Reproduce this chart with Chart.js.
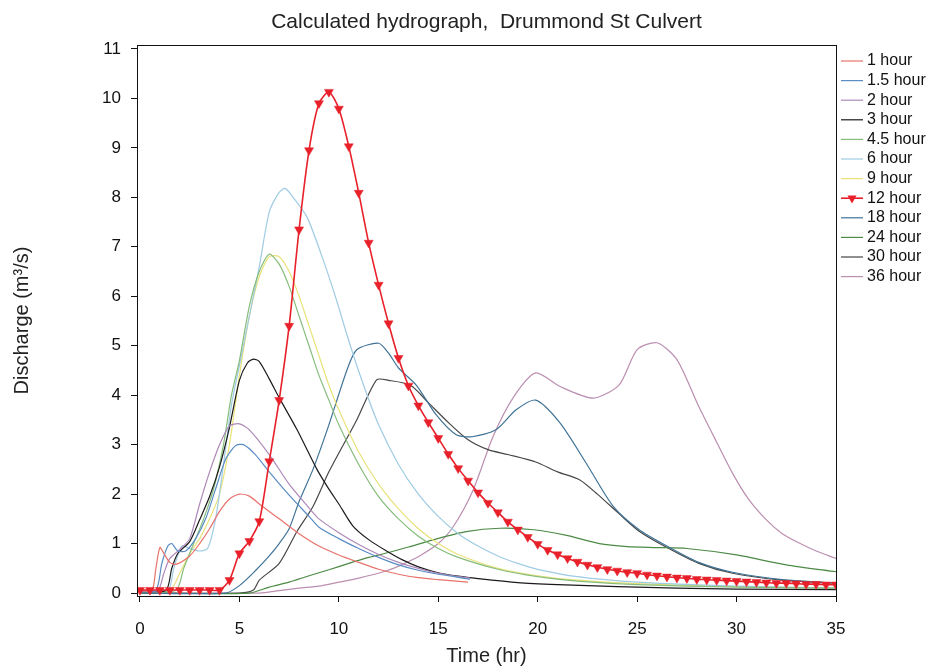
<!DOCTYPE html>
<html>
<head>
<meta charset="utf-8">
<script src="https://cdn.jsdelivr.net/npm/chart.js@4"></script>
<style>
  html, body { margin: 0; padding: 0; background: #fff; }
  #wrap { width: 930px; height: 666px; }
</style>
</head>
<body>
<div id="wrap"><canvas id="chart"></canvas></div>
<script>
// Calculated hydrograph, Drummond St Culvert

const chartTitle = 'Calculated hydrograph,  Drummond St Culvert';
const seriesLabels = ['1 hour', '1.5 hour', '2 hour', '3 hour', '4.5 hour', '6 hour', '9 hour', '12 hour', '18 hour', '24 hour', '30 hour', '36 hour'];
const xTicks = [0, 5, 10, 15, 20, 25, 30, 35];
const yTicks = [0, 1, 2, 3, 4, 5, 6, 7, 8, 9, 10, 11];

// time (hr) / discharge (m3/s) for each storm duration
const t1h = [0, 0.6, 0.8, 1.0, 1.2, 1.5, 1.8, 2.5, 3.0, 3.5, 4.0, 4.5, 5.0, 5.5, 6.0, 7.0, 8.0, 9.0, 10, 11, 12, 13, 14, 15, 16.5];
const q1h = [0.05, 0.05, 0.5, 0.92, 0.8, 0.62, 0.58, 0.75, 1.0, 1.3, 1.65, 1.9, 2.0, 1.96, 1.8, 1.5, 1.2, 0.95, 0.77, 0.62, 0.48, 0.38, 0.31, 0.27, 0.22];

const t1_5h = [0, 0.8, 1.1, 1.4, 1.6, 1.9, 2.3, 2.8, 3.3, 3.8, 4.3, 4.8, 5.2, 5.8, 6.5, 7.5, 8.5, 9.0, 10, 11, 12, 13, 14, 15, 16.6];
const q1_5h = [0.05, 0.05, 0.6, 0.95, 1.0, 0.85, 0.85, 1.1, 1.5, 2.1, 2.7, 2.98, 3.0, 2.8, 2.45, 1.98, 1.55, 1.33, 1.1, 0.9, 0.72, 0.57, 0.46, 0.38, 0.28];

const t2h = [0, 0.9, 1.2, 1.5, 2.0, 2.5, 3.0, 3.5, 4.0, 4.5, 5.0, 5.5, 6.5, 7.5, 8.5, 9.0, 10, 11, 12, 13, 14, 15, 16.6];
const q2h = [0.05, 0.05, 0.4, 0.7, 0.88, 1.1, 1.8, 2.45, 3.0, 3.38, 3.42, 3.3, 2.8, 2.2, 1.72, 1.5, 1.22, 0.98, 0.78, 0.62, 0.5, 0.4, 0.3];

const t3h = [0, 1.3, 1.6, 1.9, 2.5, 3.0, 3.5, 4.0, 4.5, 5.0, 5.4, 5.7, 6.0, 6.5, 7.0, 7.9, 8.9, 9.5, 10, 10.7, 11.5, 12.4, 13.2, 14, 15, 16, 17, 19, 21, 24, 27, 30, 35];
const q3h = [0.05, 0.05, 0.5, 0.8, 1.04, 1.48, 1.95, 2.55, 3.35, 4.3, 4.65, 4.73, 4.68, 4.33, 3.95, 3.3, 2.5, 2.1, 1.8, 1.36, 1.08, 0.85, 0.67, 0.53, 0.41, 0.34, 0.29, 0.21, 0.17, 0.13, 0.1, 0.08, 0.07];

const t4_5h = [0, 1.8, 2.2, 2.7, 3.2, 3.7, 4.2, 4.6, 5.0, 5.5, 6.0, 6.5, 7.0, 7.5, 8.0, 8.5, 9.0, 9.5, 10, 11, 12, 13, 14, 15, 16, 18, 20, 22, 25, 30, 35];
const q4_5h = [0.05, 0.05, 0.5, 1.0, 1.5, 2.1, 3.0, 4.0, 4.7, 5.8, 6.5, 6.85, 6.65, 6.2, 5.6, 5.0, 4.4, 3.9, 3.4, 2.6, 1.95, 1.5, 1.15, 0.9, 0.72, 0.48, 0.33, 0.24, 0.17, 0.12, 0.1];

const t6h = [0, 1.4, 1.7, 2.1, 2.5, 3.0, 3.4, 3.8, 4.2, 4.6, 5.0, 5.5, 6.0, 6.5, 7.0, 7.3, 7.7, 8.4, 9.2, 9.9, 10.5, 11.2, 12, 13, 14, 15, 16, 17, 18, 19, 20, 22, 25, 30, 35];
const q6h = [0.05, 0.05, 0.5, 0.95, 0.9, 0.85, 0.9, 1.5, 2.6, 3.8, 4.6, 5.6, 6.6, 7.7, 8.1, 8.18, 8.0, 7.6, 6.75, 5.9, 5.1, 4.25, 3.4, 2.6, 2.0, 1.55, 1.2, 0.95, 0.75, 0.6, 0.48, 0.33, 0.22, 0.14, 0.1];

const t9h = [0, 1.5, 2.0, 2.5, 3.0, 3.5, 4.0, 4.5, 5.0, 5.5, 6.0, 6.5, 7.0, 7.5, 8.0, 8.5, 9.0, 9.5, 10, 11, 12, 13, 14, 15, 16, 18, 20, 22, 25, 30, 35];
const q9h = [0.05, 0.05, 0.4, 0.8, 1.1, 1.5, 2.0, 3.0, 4.4, 5.6, 6.4, 6.8, 6.8, 6.5, 6.0, 5.4, 4.8, 4.2, 3.7, 2.85, 2.2, 1.7, 1.3, 1.0, 0.78, 0.5, 0.35, 0.26, 0.19, 0.13, 0.1];

const t12h = [0, 0.5, 1, 1.5, 2, 2.5, 3, 3.5, 4, 4.5, 5, 5.5, 6, 6.5, 7, 7.5, 8, 8.5, 9, 9.5, 10, 10.5, 11, 11.5, 12,
  12.5, 13, 13.5, 14, 14.5, 15, 15.5, 16, 16.5, 17, 17.5, 18, 18.5, 19, 19.5, 20, 20.5, 21, 21.5, 22, 22.5, 23, 23.5, 24,
  24.5, 25, 25.5, 26, 26.5, 27, 27.5, 28, 28.5, 29, 29.5, 30, 30.5, 31, 31.5, 32, 32.5, 33, 33.5, 34, 34.5, 35];
const q12h = [0.06, 0.06, 0.06, 0.06, 0.06, 0.06, 0.06, 0.06, 0.06, 0.26, 0.80, 1.05, 1.45, 2.66, 3.9, 5.4, 7.35, 8.95, 9.9, 10.13, 9.79, 9.03, 8.09, 7.08, 6.23,
  5.45, 4.75, 4.19, 3.79, 3.45, 3.13, 2.81, 2.52, 2.27, 2.03, 1.82, 1.63, 1.44, 1.28, 1.13, 0.99, 0.87, 0.78, 0.70, 0.63, 0.57, 0.52, 0.48, 0.45,
  0.42, 0.40, 0.37, 0.35, 0.33, 0.31, 0.30, 0.28, 0.27, 0.26, 0.25, 0.24, 0.23, 0.22, 0.21, 0.20, 0.20, 0.19, 0.18, 0.18, 0.17, 0.17];

const t18h = [0, 4.3, 5.0, 5.8, 6.5, 7.0, 7.5, 8.0, 8.7, 9.5, 10.4, 10.9, 12.0, 12.5, 13.0, 13.9, 14.9, 15.9, 16.7, 17.9, 18.9, 19.9, 21.1, 22.4, 23.8, 25.1, 26.5, 28.1, 29.8, 32.3, 35];
const q18h = [0, 0, 0.15, 0.45, 0.75, 1.0, 1.3, 1.85, 2.5, 3.4, 4.5, 4.92, 5.05, 4.85, 4.55, 4.2, 3.6, 3.2, 3.16, 3.3, 3.7, 3.9, 3.45, 2.65, 1.75, 1.28, 0.95, 0.62, 0.42, 0.27, 0.2];

const t24h = [0, 5.5, 6.5, 7.5, 8.5, 9.5, 10.5, 11.5, 12.5, 13.5, 14.7, 16.4, 18.1, 19.8, 21.4, 23.1, 24.5, 26, 27.5, 30, 32.5, 35];
const q24h = [0, 0, 0.12, 0.22, 0.35, 0.47, 0.6, 0.72, 0.82, 0.93, 1.07, 1.24, 1.31, 1.28, 1.17, 1.0, 0.94, 0.92, 0.9, 0.77, 0.57, 0.43];

const t30h = [0, 5.0, 5.7, 6.0, 7.0, 7.9, 8.7, 9.5, 10.9, 11.9, 12.5, 13.6, 14.5, 15.5, 16.5, 17.5, 18.5, 19.9, 21.0, 22.1, 23, 24.1, 25.1, 26.5, 28.1, 29.8, 32.3, 35];
const q30h = [0, 0, 0.06, 0.26, 0.6, 1.25, 1.75, 2.45, 3.5, 4.31, 4.3, 4.2, 3.85, 3.45, 3.1, 2.9, 2.8, 2.65, 2.45, 2.29, 2.0, 1.6, 1.25, 0.92, 0.6, 0.4, 0.26, 0.2];

const t36h = [0, 6, 7, 8, 9, 10, 11, 12.4, 13.2, 14.1, 15, 15.75, 16.75, 17.75, 18.8, 19.9, 21.1, 22.8, 24.1, 25, 26, 27, 28.1, 29, 29.8, 30.6, 31.5, 32.3, 33.2, 34, 35];
const q36h = [0, 0, 0.05, 0.1, 0.14, 0.22, 0.3, 0.45, 0.58, 0.76, 1.0, 1.34, 2.08, 3.16, 3.97, 4.45, 4.18, 3.94, 4.21, 4.92, 5.06, 4.72, 3.77, 3.05, 2.42, 1.9, 1.48, 1.2, 1.0, 0.85, 0.7];

const seriesTimes = [t1h, t1_5h, t2h, t3h, t4_5h, t6h, t9h, t12h, t18h, t24h, t30h, t36h];
const seriesValues = [q1h, q1_5h, q2h, q3h, q4_5h, q6h, q9h, q12h, q18h, q24h, q30h, q36h];
const seriesColors = ['#e8736c', '#5a8cc4', '#ad88b8', '#1a1a1a', '#86bd7c', '#9fcbe3', '#e9e27a', '#e8202a', '#3f7396', '#4c8a45', '#474747', '#bb8fb0'];

const FONT = '"Liberation Sans", Arial, sans-serif';

function pair(ts, qs) {
    return ts.map((t, i) => ({ x: t, y: qs[i] }));
}

const datasets = seriesLabels.map((label, i) => {
    const is12 = label === '12 hour';
    return {
        label: label,
        data: pair(seriesTimes[i], seriesValues[i]),
        borderColor: seriesColors[i],
        backgroundColor: seriesColors[i],
        borderWidth: is12 ? 1.6 : 1.2,
        pointRadius: is12 ? 5.2 : 0,
        pointStyle: 'triangle',
        rotation: 180,
        pointBorderWidth: 0.5,
        tension: 0.25,
        order: is12 ? 0 : 1
    };
});

// frame round the plot, and the title centred over it
const framePlugin = {
    id: 'frame',
    afterDraw(chart) {
        const a = chart.chartArea;
        const ctx = chart.ctx;
        ctx.save();
        ctx.strokeStyle = '#111';
        ctx.lineWidth = 1;
        ctx.strokeRect(a.left + 0.5, a.top + 0.5, a.right - a.left, a.bottom - a.top);
        ctx.fillStyle = '#222';
        ctx.font = '21px ' + FONT;
        ctx.textAlign = 'center';
        ctx.textBaseline = 'middle';
        ctx.fillText(chartTitle, (a.left + a.right) / 2, 22);
        ctx.restore();
    }
};

// legend down the right side, like the original
const sideLegend = {
    id: 'sideLegend',
    afterDraw(chart) {
        const ctx = chart.ctx;
        ctx.save();
        ctx.font = '16px ' + FONT;
        ctx.textBaseline = 'middle';
        chart.data.datasets.forEach((ds, i) => {
            const y = 61 + i * 19.6;
            ctx.strokeStyle = ds.borderColor;
            ctx.lineWidth = ds.borderWidth;
            ctx.beginPath();
            ctx.moveTo(841, y);
            ctx.lineTo(863, y);
            ctx.stroke();
            if (ds.pointRadius > 0) {
                const r = ds.pointRadius;
                ctx.fillStyle = ds.borderColor;
                ctx.beginPath();
                ctx.moveTo(852, y + r);
                ctx.lineTo(852 - r * 0.87, y - r / 2);
                ctx.lineTo(852 + r * 0.87, y - r / 2);
                ctx.closePath();
                ctx.fill();
            }
            ctx.fillStyle = '#111';
            ctx.fillText(ds.label, 867, y);
        });
        ctx.restore();
    }
};

new Chart(document.getElementById('chart'), {
    type: 'line',
    data: { datasets: datasets },
    plugins: [framePlugin, sideLegend],
    options: {
        responsive: true,
        maintainAspectRatio: false,
        animation: false,
        layout: { padding: { left: 0, right: 94, top: 45, bottom: 0 } },
        plugins: {
            legend: { display: false },
            tooltip: { enabled: false },
            title: { display: false }
        },
        scales: {
            x: {
                type: 'linear',
                min: -0.15,
                max: 35,
                afterBuildTicks: axis => { axis.ticks = xTicks.map(v => ({ value: v })); },
                afterFit: axis => { axis.height = 70; },
                ticks: { color: '#111', font: { family: FONT, size: 17 }, padding: 17, maxRotation: 0 },
                grid: { drawOnChartArea: false, drawTicks: true, tickLength: 6, color: '#111' },
                border: { display: true, color: '#111' },
                title: {
                    display: true,
                    text: 'Time (hr)',
                    color: '#222',
                    font: { family: FONT, size: 20, lineHeight: 1.0 },
                    padding: { top: 0, bottom: 0 }
                }
            },
            y: {
                type: 'linear',
                min: -0.06,
                max: 11.08,
                afterBuildTicks: axis => { axis.ticks = yTicks.map(v => ({ value: v })); },
                afterFit: axis => { axis.width = 137; },
                ticks: { color: '#111', font: { family: FONT, size: 17 }, padding: 10 },
                grid: { drawOnChartArea: false, drawTicks: true, tickLength: 6, color: '#111' },
                border: { display: true, color: '#111' },
                title: {
                    display: true,
                    text: 'Discharge (m³/s)',
                    color: '#222',
                    font: { family: FONT, size: 20, lineHeight: 1.0 },
                    padding: { top: 12, bottom: 0 }
                }
            }
        }
    }
});
</script>
</body>
</html>
